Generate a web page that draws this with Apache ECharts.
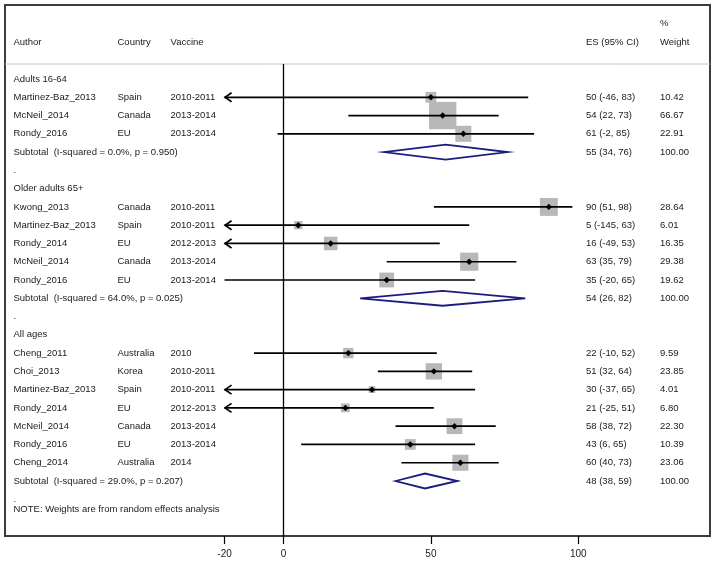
<!DOCTYPE html>
<html><head><meta charset="utf-8">
<script src="https://cdn.jsdelivr.net/npm/echarts@6/dist/echarts.min.js"></script>
<style>html,body{margin:0;padding:0;background:#fff}#c{width:716px;height:562px}</style>
</head><body><div id="c"></div><script>
// ---- data ----
const labels = ['Adults 16-64','Martinez-Baz_2013','McNeil_2014','Rondy_2016','Subtotal  (I-squared = 0.0%, p = 0.950)','.',
  'Older adults 65+','Kwong_2013','Martinez-Baz_2013','Rondy_2014','McNeil_2014','Rondy_2016','Subtotal  (I-squared = 64.0%, p = 0.025)','.',
  'All ages','Cheng_2011','Choi_2013','Martinez-Baz_2013','Rondy_2014','McNeil_2014','Rondy_2016','Cheng_2014','Subtotal  (I-squared = 29.0%, p = 0.207)','.'];
const countries = ['','Spain','Canada','EU','','', '','Canada','Spain','EU','Canada','EU','','', '','Australia','Korea','Spain','EU','Canada','EU','Australia','',''];
const vaccines = ['','2010-2011','2013-2014','2013-2014','','', '','2010-2011','2010-2011','2012-2013','2013-2014','2013-2014','','', '','2010','2010-2011','2010-2011','2012-2013','2013-2014','2013-2014','2014','',''];
const kinds = ['h','s','s','s','p','d', 'h','s','s','s','s','s','p','d', 'h','s','s','s','s','s','s','s','p','d'];
const es     = [null,50,54,61,55,null, null,90,5,16,63,35,54,null, null,22,51,30,21,58,43,60,48,null];
const lower  = [null,-46,22,-2,34,null, null,51,-145,-49,35,-20,26,null, null,-10,32,-37,-25,38,6,40,38,null];
const upper  = [null,83,73,85,76,null, null,98,63,53,79,65,82,null, null,52,64,65,51,72,65,73,59,null];
const weights= [null,10.42,66.67,22.91,100.00,null, null,28.64,6.01,16.35,29.38,19.62,100.00,null, null,9.59,23.85,4.01,6.80,22.30,10.39,23.06,100.00,null];
const headCols = ['Author','Country','Vaccine','ES (95% CI)','Weight'];
const headTop = '%';
const noteText = 'NOTE: Weights are from random effects analysis';
const xTicks = [-20, 0, 50, 100];
const plotMin = -20;

// ---- layout ----
const FONT = '"Liberation Sans", Arial, Helvetica, sans-serif';
const FS = 9.5;
const TXT = '#1a1a1a';
const XMIN = -94.47, XMAX = 144.67;
const YMIN = -4.05, YMAX = 25.01;
const colX = [13.5, 117.5, 170.5, 586, 660];
const headRow = -2.03, pctRow = -3.07, sepRow = -0.82, noteRow = 23.55;

const studyData = [], poolData = [], textData = [];
for (let i = 0; i < labels.length; i++) {
  textData.push([0, i]);
  if (kinds[i] === 's') studyData.push([es[i], i, lower[i], upper[i], weights[i]]);
  if (kinds[i] === 'p') poolData.push([es[i], i, lower[i], upper[i], weights[i]]);
}

function txt(x, y, s, align) {
  return {type:'text', style:{text:s, x:x, y:y, font: FS + 'px ' + FONT, fill:TXT,
    align: align || 'left', verticalAlign:'middle', textAlign: align || 'left', textVerticalAlign:'middle'}};
}
function esText(i){ return es[i] + ' (' + lower[i] + ', ' + upper[i] + ')'; }

const chart = echarts.init(document.getElementById('c'), null, {renderer:'canvas'});
chart.setOption({
  animation:false,
  backgroundColor:'#fff',
  grid:{left:5, right:6, top:5, bottom:26, show:true, borderColor:'#3c3c3c', borderWidth:2, backgroundColor:'transparent'},
  xAxis:{type:'value', min:XMIN, max:XMAX, position:'bottom',
    axisLine:{show:false, onZero:false}, splitLine:{show:false},
    axisTick:{show:true, customValues:xTicks, length:8, lineStyle:{color:'#000', width:1.2}},
    axisLabel:{customValues:xTicks, fontSize:10, color:'#1a1a1a', margin:13, fontFamily:FONT}},
  yAxis:{type:'value', inverse:true, min:YMIN, max:YMAX, show:false},
  series:[
    { // header separator and zero line
      type:'custom', data:[[0, sepRow]], silent:true, z:2,
      renderItem:function(p, api){
        const a = api.coord([0, sepRow]), b = api.coord([0, YMAX]);
        const s = api.coord([XMIN, sepRow]), e = api.coord([XMAX, sepRow]);
        return {type:'group', children:[
          {type:'line', shape:{x1:s[0], y1:s[1], x2:e[0], y2:e[1]}, style:{stroke:'#c4c4c4', lineWidth:1}},
          {type:'line', shape:{x1:a[0], y1:a[1], x2:b[0], y2:b[1]}, style:{stroke:'#000', lineWidth:1.3}}
        ]};
      }
    },
    { // weight boxes
      type:'custom', data:studyData, silent:true, z:3,
      renderItem:function(p, api){
        const c = api.coord([api.value(0), api.value(1)]);
        const s = 3.35 * Math.sqrt(api.value(4));
        return {type:'rect', shape:{x:c[0]-s/2, y:c[1]-s/2, width:s, height:s}, style:{fill:'#b8b8b8'}};
      }
    },
    { // CI lines
      type:'custom', data:studyData, silent:true, z:4,
      renderItem:function(p, api){
        const r = api.value(1), lo = api.value(2), hi = api.value(3);
        const a = api.coord([Math.max(lo, plotMin), r]), b = api.coord([hi, r]);
        const ch = [{type:'line', shape:{x1:a[0], y1:a[1], x2:b[0], y2:b[1]}, style:{stroke:'#000', lineWidth:1.7}}];
        if (lo < plotMin) ch.push({type:'polyline', shape:{points:[[a[0]+7, a[1]-4.5],[a[0]+0.5, a[1]],[a[0]+7, a[1]+4.5]]},
          style:{stroke:'#000', lineWidth:1.7, fill:null}});
        return {type:'group', children:ch};
      }
    },
    { // point estimates
      type:'custom', data:studyData, silent:true, z:5,
      renderItem:function(p, api){
        const c = api.coord([api.value(0), api.value(1)]);
        const h = 3.2;
        return {type:'polygon', shape:{points:[[c[0]-h,c[1]],[c[0],c[1]-h],[c[0]+h,c[1]],[c[0],c[1]+h]]}, style:{fill:'#000'}};
      }
    },
    { // pooled diamonds
      type:'custom', data:poolData, silent:true, z:5,
      renderItem:function(p, api){
        const r = api.value(1);
        const l = api.coord([api.value(2), r]), t = api.coord([api.value(0), r - 0.41]),
              rr = api.coord([api.value(3), r]), b = api.coord([api.value(0), r + 0.41]);
        return {type:'polygon', shape:{points:[l, t, rr, b]}, style:{stroke:'#1c1c80', lineWidth:1.8, fill:null}};
      }
    },
    { // text columns
      type:'custom', data:textData, silent:true, z:6,
      renderItem:function(p, api){
        const i = api.value(1);
        const y = api.coord([0, i])[1];
        const ch = [txt(colX[0], y, labels[i])];
        if (kinds[i] === 's') {
          ch.push(txt(colX[1], y, countries[i]));
          ch.push(txt(colX[2], y, vaccines[i]));
        }
        if (kinds[i] === 's' || kinds[i] === 'p') {
          ch.push(txt(colX[3], y, esText(i)));
          ch.push(txt(colX[4], y, weights[i].toFixed(2)));
        }
        if (i === 0) {
          const hy = api.coord([0, headRow])[1], py = api.coord([0, pctRow])[1];
          headCols.forEach(function(h, k){ ch.push(txt(colX[k], hy, h)); });
          ch.push(txt(colX[4], py, headTop));
        }
        if (i === labels.length - 1) {
          ch.push(txt(colX[0], api.coord([0, noteRow])[1], noteText));
        }
        return {type:'group', children:ch};
      }
    }
  ]
});
</script></body></html>
